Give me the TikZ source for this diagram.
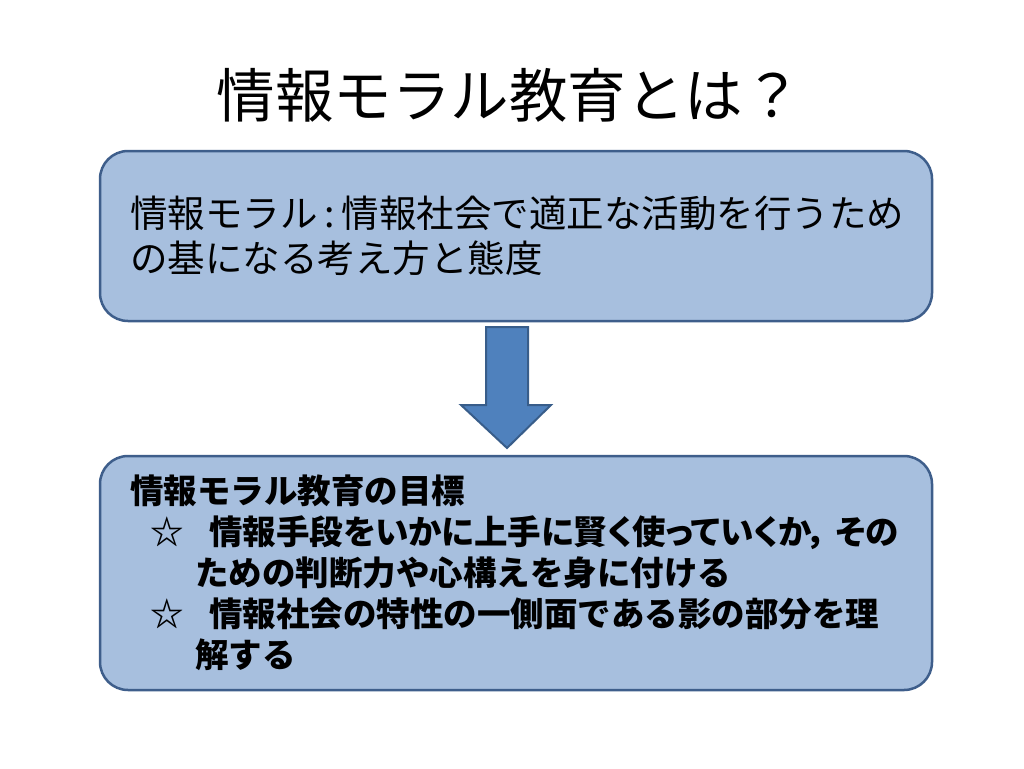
\documentclass[tikz,border=0pt]{standalone}
\usepackage{fontspec}
\newfontfamily\jp{Noto Sans CJK JP}
\newfontfamily\jpp{Noto Sans CJK JP}[RawFeature=+palt]
\definecolor{boxfill}{RGB}{167,191,222}
\definecolor{boxline}{RGB}{62,94,139}
\definecolor{arrfill}{RGB}{79,129,189}
\definecolor{arrline}{RGB}{56,93,138}
\begin{document}
\begin{tikzpicture}[x=1pt,y=-1pt,
  infobox/.style={draw=boxline,line width=2.5pt,fill=boxfill,rounded corners=28pt,
    minimum width=832pt,text width=772pt,inner xsep=30pt,align=left,anchor=center},
  titletext/.style={font=\jp\fontsize{58.5}{60}\selectfont,inner sep=0pt}]
\useasboundingbox[fill=white] (0,0) rectangle (1024,768);
\node[titletext] (title) at (509,95) {情報モラル教育とは？};
\node[infobox,minimum height=170pt,font=\jp\fontsize{37.5}{45}\selectfont] (b1) at (516,236)
  {情報モラル\hspace{7pt}:\hspace{7pt}情報社会で適正な活動を行うため\\の基になる考え方と態度};
\node[infobox,minimum height=234pt,font=\jp\bfseries\fontsize{33.5}{41}\selectfont] (b2) at (516,573)
  {情報モラル教育の目標\\
   \hspace*{20pt}☆\hspace{26pt}{\jpp\bfseries 情報手段をいかに上手に賢く使っていくか，\hspace{9pt}その}\\
   \hspace*{65pt}ための判断力や心構えを身に付ける\\
   \hspace*{20pt}☆\hspace{26pt}情報社会の特性の一側面である影の部分を理\\
   \hspace*{65pt}解する};
\draw[draw=arrline,line width=2pt,fill=arrfill,line join=miter]
  (486,327) -- (528,327) -- (528,405) -- (551,405) -- (507,448) -- (461,405) -- (486,405) -- cycle;
\end{tikzpicture}
\end{document}
